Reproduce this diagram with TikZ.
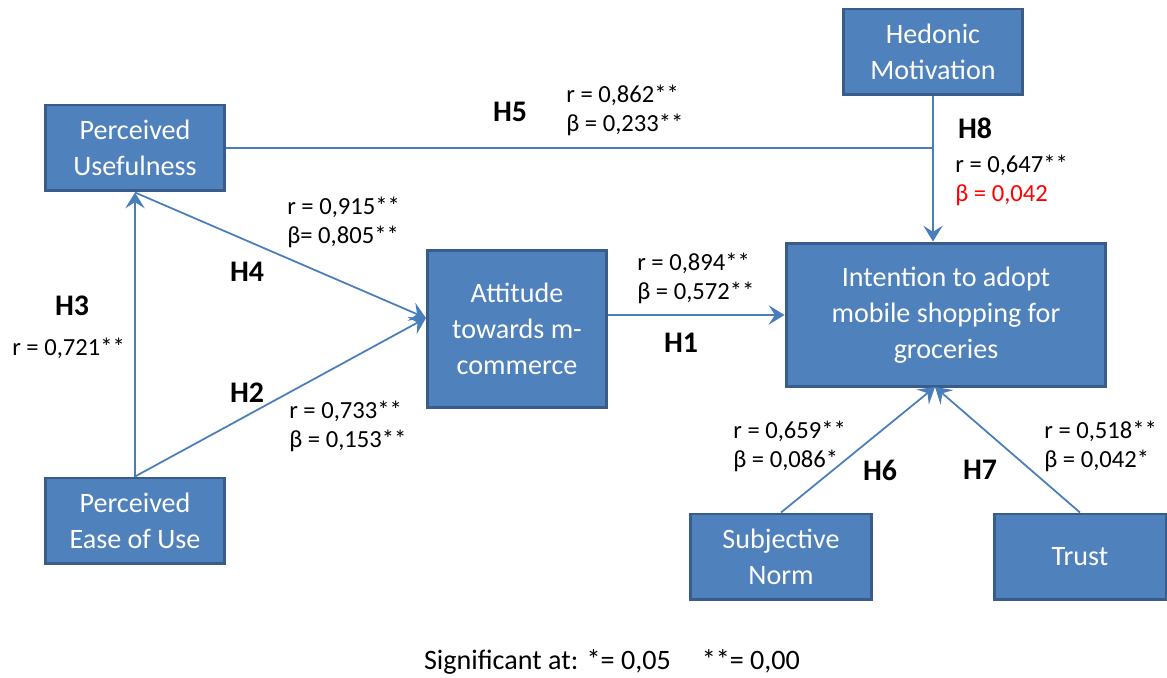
\documentclass[tikz,border=0pt]{standalone}
\usepackage{fontspec}
\setmainfont{Carlito}
\usetikzlibrary{arrows.meta}
\usetikzlibrary{positioning}

\definecolor{boxfill}{HTML}{4F81BD}
\definecolor{boxline}{HTML}{385D8A}
\definecolor{linkcol}{HTML}{4A7EBB}

\tikzset{
  construct/.style={draw=boxline,fill=boxfill,line width=1.7pt,text=white,align=center,
    minimum width=3.6cm,minimum height=1.72cm,inner sep=1pt,
    font=\fontsize{16}{20.5}\selectfont},
  link/.style={draw=linkcol,line width=1pt,-{Stealth[length=9pt,width=11pt,inset=3.5pt]}},
  hyp/.style={font=\fontsize{17}{19}\selectfont\bfseries,inner sep=0pt},
  stat/.style={font=\fontsize{14}{16.5}\selectfont,align=left,anchor=west,inner sep=0pt},
}

\begin{document}
\begin{tikzpicture}[x=0.02cm,y=-0.02cm]
\useasboundingbox (0,0) rectangle (1167,678);
\node[construct] (pu) at (135,148) {Perceived\\Usefulness};
\node[construct] (hm) at (933,52) {Hedonic\\Motivation};
\node[construct,minimum height=3.16cm] (att) at (517,329) {Attitude\\towards m-\\commerce};
\node[construct,minimum width=6.4cm,minimum height=2.88cm] (int) at (946,315) {Intention to adopt\\mobile shopping for\\groceries};
\node[construct] (peou) at (135,521) {Perceived\\Ease of Use};
\node[construct,minimum width=3.64cm] (sn) at (781,557) {Subjective\\Norm};
\node[construct,minimum width=3.44cm] (trust) at (1080,557) {Trust};

\coordinate (hmjoin) at (hm.south |- pu.east);
\coordinate (attin) at (426,318);
\coordinate (intin) at (935,387);

\draw[link] (att.east |- int.west) -- (int.west);
\draw[link] (hm.south) -- (hm.south |- int.north);
\draw[draw=linkcol,line width=1pt] (pu.east) -- (hmjoin);
\draw[link] (peou.north) -- (pu.south);
\draw[link] (pu.south) -- (attin);
\draw[link] (peou.north) -- (attin);
\draw[link] (sn.north) -- (intin);
\draw[link] (trust.north) -- (intin);

% hypotheses
\node[hyp] (h1) at (681,343) {H1};
\node[hyp] (h2) at (247,393) {H2};
\node[hyp] (h3) at (72,306) {H3};
\node[hyp] (h4) at (247,272) {H4};
\node[hyp] (h5) at (510,112) {H5};
\node[hyp] (h6) at (880,470) {H6};
\node[hyp] (h7) at (980,470) {H7};
\node[hyp] (h8) at (975,128) {H8};

% coefficients
\node[stat] (s1) at (637,278) {r = 0,894**\\β = 0,572**};
\node[stat] (s2) at (289,426) {r = 0,733**\\β = 0,153**};
\node[stat] (s3) at (12,348) {r = 0,721**};
\node[stat] (s4) at (287,222) {r = 0,915**\\β= 0,805**};
\node[stat] (s5) at (566,110) {r = 0,862**\\β = 0,233**};
\node[stat] (s6) at (733,446) {r = 0,659**\\β = 0,086*};
\node[stat] (s7) at (1044,446) {r = 0,518**\\β = 0,042*};
\node[stat] (s8) at (955,180) {r = 0,647**\\\textcolor{red}{β = 0,042}};

\node[font=\fontsize{16}{19}\selectfont,inner sep=0pt] (note) at (612,662) {Significant at: *= 0,05\hspace{1.1em}**= 0,00};
\end{tikzpicture}
\end{document}
